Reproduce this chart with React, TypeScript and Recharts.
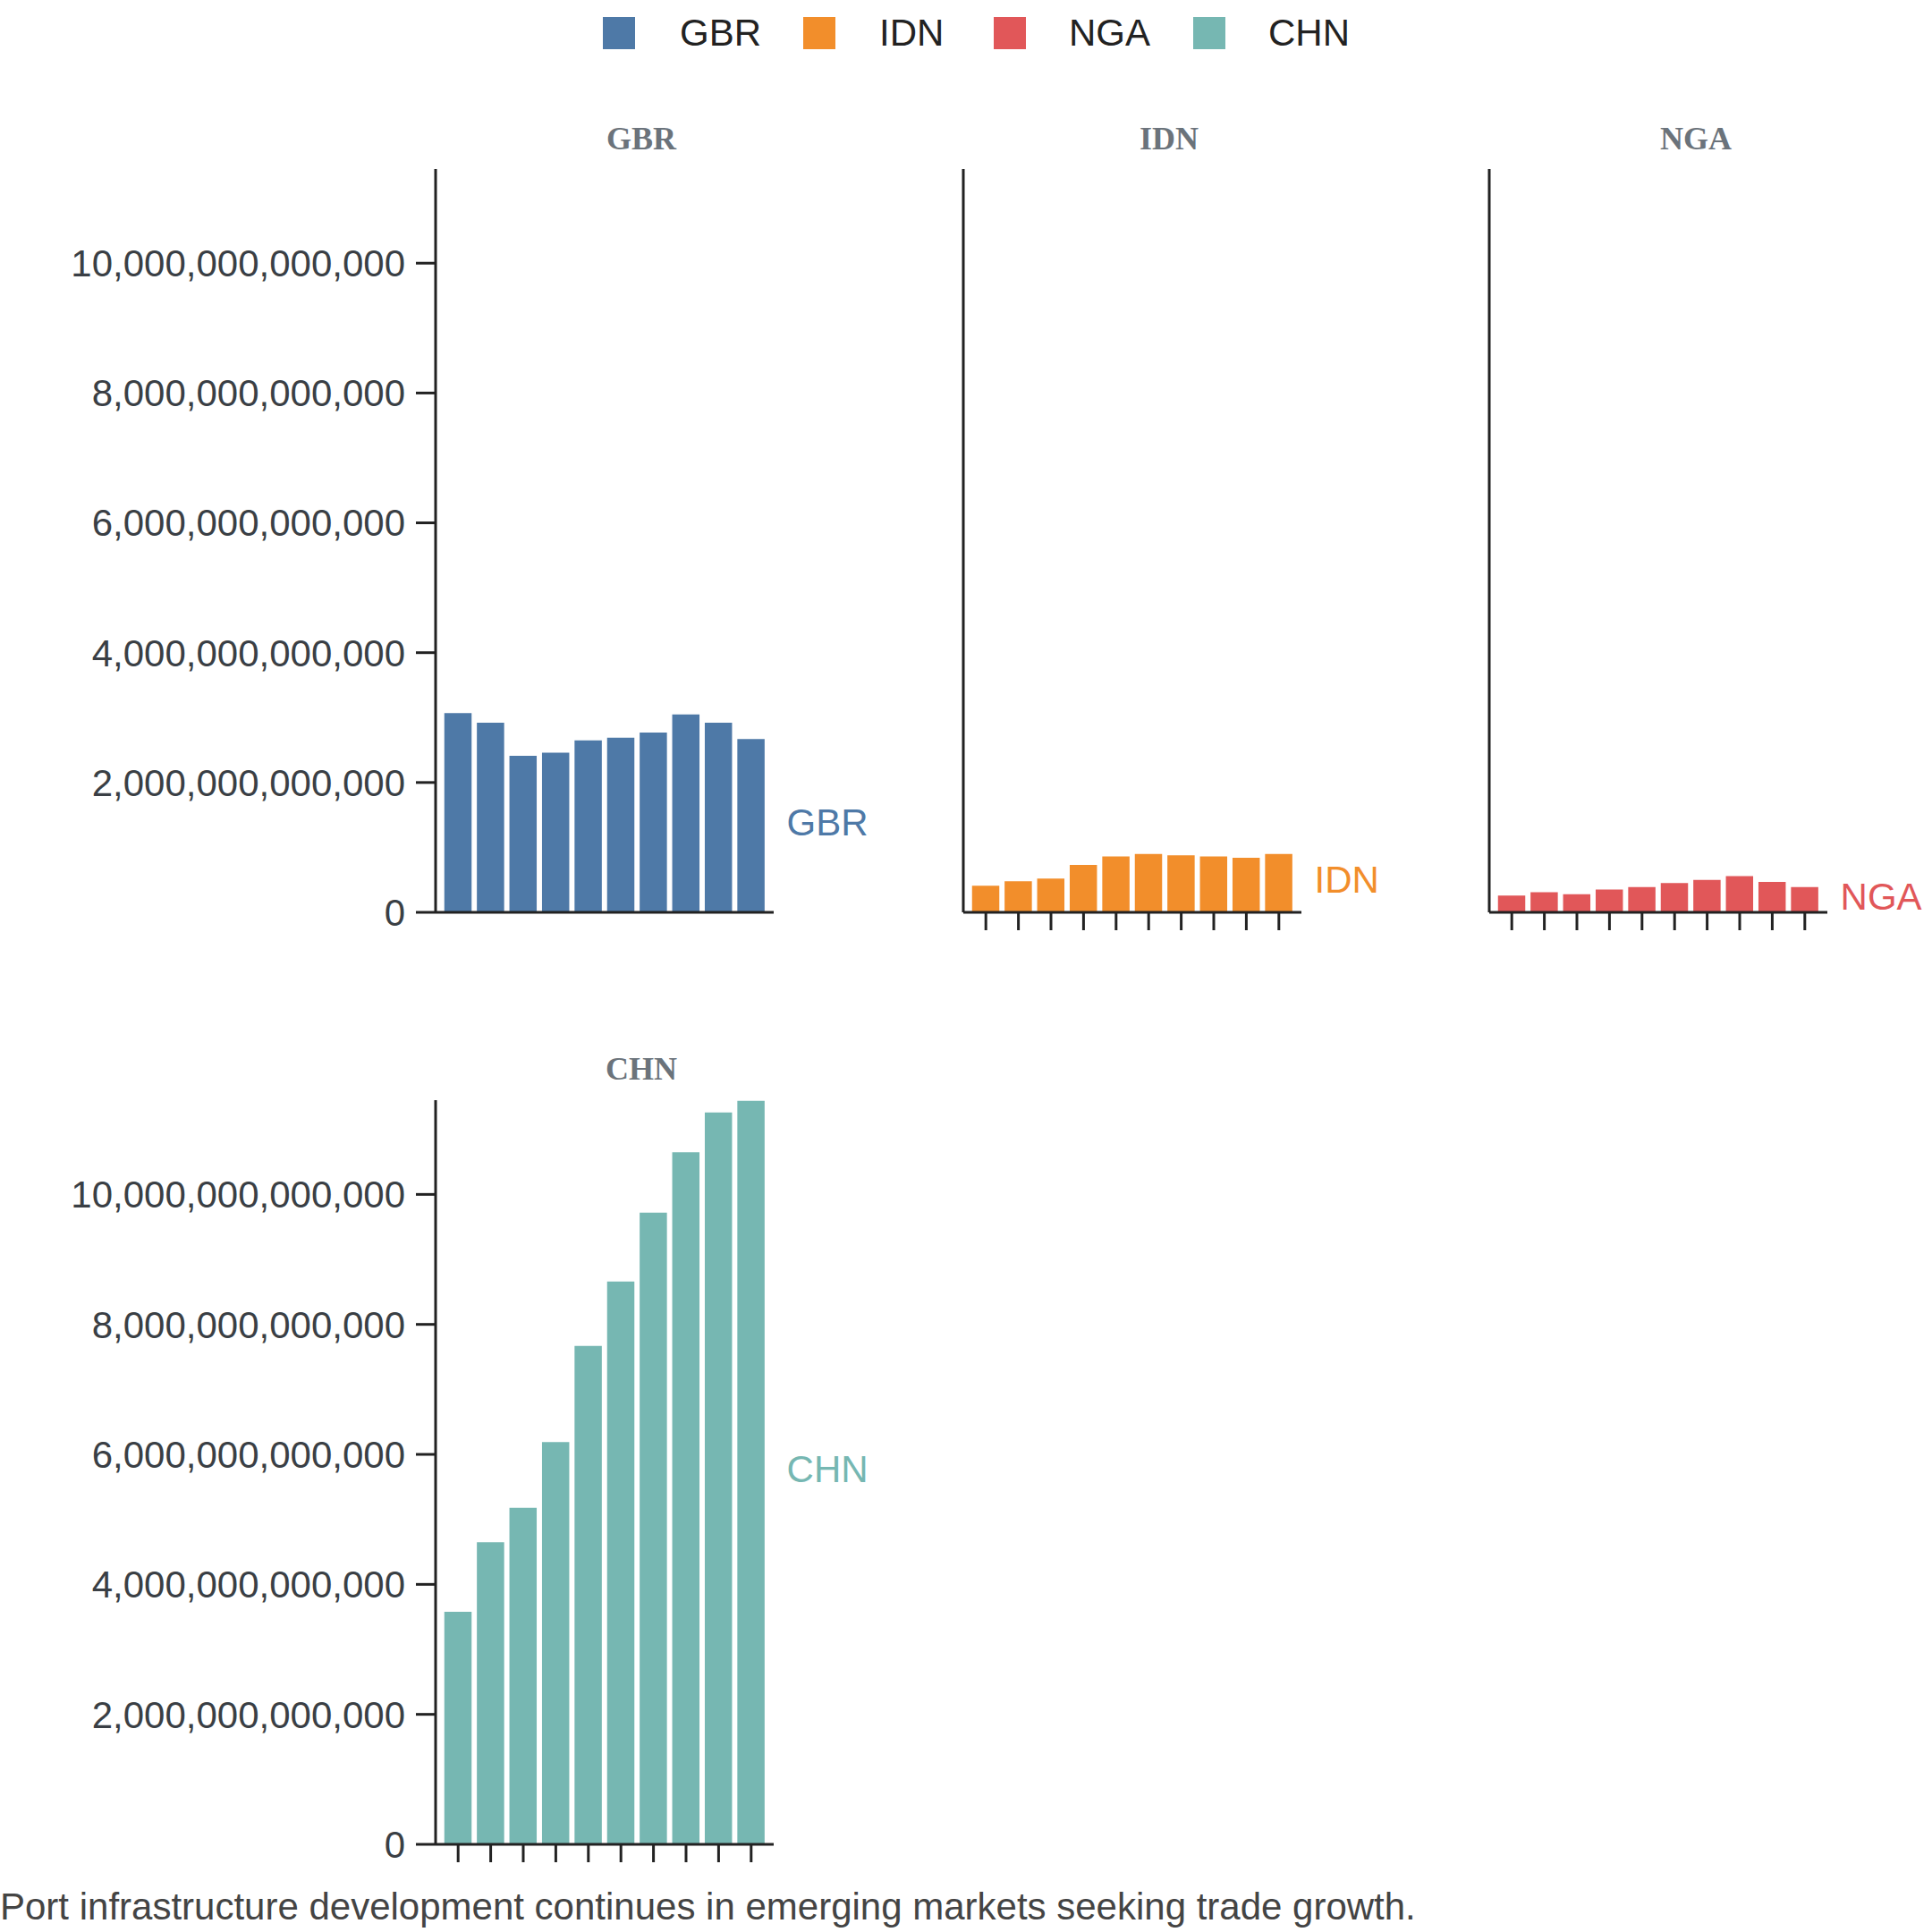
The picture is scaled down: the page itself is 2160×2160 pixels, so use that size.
import React from 'react';
import { BarChart, Bar, XAxis, YAxis, LabelList } from 'recharts';

const years = ['2014', '2015', '2016', '2017', '2018', '2019', '2020', '2021', '2022', '2023'];
const gbrValues = [3.08, 2.93, 2.42, 2.47, 2.66, 2.7, 2.78, 3.06, 2.93, 2.68];
const idnValues = [0.42, 0.49, 0.53, 0.74, 0.87, 0.91, 0.89, 0.87, 0.85, 0.91];
const ngaValues = [0.27, 0.32, 0.29, 0.36, 0.4, 0.46, 0.51, 0.57, 0.48, 0.4];
const chnValues = [3.59, 4.66, 5.19, 6.2, 7.68, 8.67, 9.73, 10.66, 11.27, 11.45];
const yTicks = [0, 2e12, 4e12, 6e12, 8e12, 10e12];

const FONT = '"Liberation Sans", Arial, sans-serif';
const AXIS = '#222';

interface Panel {
  name: string;
  color: string;
  values: number[];
  axisX: number;
  top: number;
  bottom: number;
  showY: boolean;
  showXTicks: boolean;
}

const panels: Panel[] = [
  { name: 'GBR', color: '#4e79a7', values: gbrValues, axisX: 487, top: 189, bottom: 1020, showY: true, showXTicks: false },
  { name: 'IDN', color: '#f28e2b', values: idnValues, axisX: 1077, top: 189, bottom: 1020, showY: false, showXTicks: true },
  { name: 'NGA', color: '#e15759', values: ngaValues, axisX: 1665, top: 189, bottom: 1020, showY: false, showXTicks: true },
  { name: 'CHN', color: '#76b7b2', values: chnValues, axisX: 487, top: 1230, bottom: 2062, showY: true, showXTicks: true },
];

const fmt = (v: number) => v.toLocaleString('en-US');

const PanelChart = ({ p }: { p: Panel }) => {
  const data = years.map((y, i) => ({ year: y, value: p.values[i] * 1e12 }));
  const plotW = 378;
  const left = p.axisX - 487;
  const width = 487 + plotW + 220;
  const height = p.bottom - p.top + 40 + 60;
  const last = data.length - 1;
  return (
    <div style={{ position: 'absolute', left, top: p.top - 40 }}>
      <BarChart
        width={width}
        height={height}
        data={data}
        margin={{ top: 40, right: 220, left: 0, bottom: 0 }}
        barCategoryGap={2}
      >
        <XAxis
          dataKey="year"
          height={60}
          padding={{ left: 7, right: 7 }}
          axisLine={{ stroke: AXIS, strokeWidth: 3 }}
          tickLine={p.showXTicks ? { stroke: AXIS, strokeWidth: 3 } : false}
          tickSize={20}
          tickFormatter={() => ''}
          interval={0}
        />
        <YAxis
          width={487}
          domain={[0, 11.45e12]}
          ticks={yTicks}
          allowDataOverflow
          axisLine={{ stroke: AXIS, strokeWidth: 3 }}
          tick={p.showY ? { fontSize: 42, fill: '#3a3f45', fontFamily: FONT } : false}
          tickLine={p.showY ? { stroke: AXIS, strokeWidth: 3 } : false}
          tickSize={22}
          tickMargin={12}
          tickFormatter={fmt}
        />
        <Bar dataKey="value" fill={p.color} stroke="#fff" strokeWidth={1.5} isAnimationActive={false}>
          <LabelList
            dataKey="value"
            content={(props: any) => {
              if (props.index !== last) return null;
              const x = Number(props.x) + Number(props.width) + 24;
              const y = Number(props.y) + Number(props.height) / 2;
              return (
                <text x={x} y={y} fill={p.color} fontSize={42} fontFamily={FONT} dominantBaseline="middle">
                  {p.name}
                </text>
              );
            }}
          />
        </Bar>
      </BarChart>
    </div>
  );
};

const titles = [
  { name: 'GBR', x: 717, y: 155 },
  { name: 'IDN', x: 1307, y: 155 },
  { name: 'NGA', x: 1896, y: 155 },
  { name: 'CHN', x: 717, y: 1195 },
];

const legend = [
  { name: 'GBR', color: '#4e79a7', sq: 674, tx: 760 },
  { name: 'IDN', color: '#f28e2b', sq: 898, tx: 983 },
  { name: 'NGA', color: '#e15759', sq: 1111, tx: 1195 },
  { name: 'CHN', color: '#76b7b2', sq: 1334, tx: 1418 },
];

export default function App() {
  return (
    <div style={{ position: 'absolute', left: 0, top: 0, width: 2160, height: 2160, background: '#fff', overflow: 'hidden' }}>
      {legend.map((l) => (
        <React.Fragment key={l.name}>
          <div style={{ position: 'absolute', left: l.sq, top: 19, width: 36, height: 36, background: l.color }} />
          <div style={{ position: 'absolute', left: l.tx, top: 37, transform: 'translateY(-50%)', fontSize: 42, fontFamily: FONT, color: '#222', lineHeight: 1 }}>
            {l.name}
          </div>
        </React.Fragment>
      ))}
      {titles.map((t) => (
        <div
          key={t.name}
          style={{ position: 'absolute', left: t.x, top: t.y, transform: 'translate(-50%, -50%)', fontSize: 36, fontWeight: 'bold', fontFamily: '"Liberation Serif", "Times New Roman", serif', color: '#6b737b', lineHeight: 1 }}
        >
          {t.name}
        </div>
      ))}
      {panels.map((p) => (
        <PanelChart key={p.name} p={p} />
      ))}
      <div style={{ position: 'absolute', left: 0, top: 2132, transform: 'translateY(-50%)', fontSize: 42, fontFamily: FONT, color: '#444', lineHeight: 1, whiteSpace: 'nowrap' }}>
        Port infrastructure development continues in emerging markets seeking trade growth.
      </div>
    </div>
  );
}
